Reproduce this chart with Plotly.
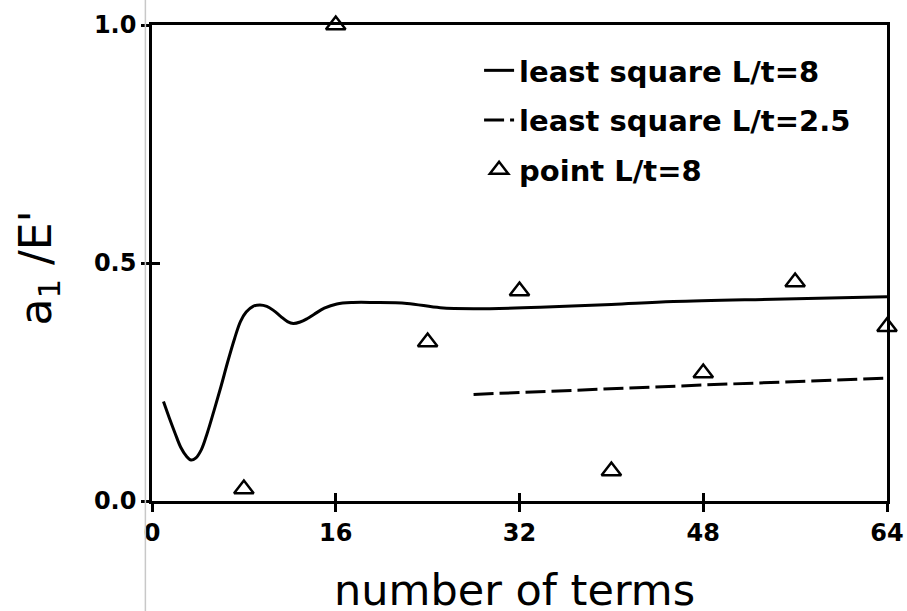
import plotly.graph_objects as go

# ---- data ----
ls8_x = [1.0, 1.5, 2.0, 2.5, 3.0, 3.4, 3.8, 4.3, 4.8, 5.4, 6.0, 6.6, 7.2, 7.7, 8.2, 8.8, 9.4, 10.0,
         10.6, 11.2, 11.8, 12.3, 12.9, 13.5, 14.1, 15.0, 16.1, 17.5, 19.3, 22.2, 25.1, 28.0, 33.8,
         40.0, 45.4, 54.1, 64.0]
ls8_y = [0.209, 0.175, 0.143, 0.113, 0.094, 0.086, 0.090, 0.108, 0.142, 0.190, 0.240, 0.293, 0.342,
         0.377, 0.397, 0.409, 0.412, 0.409, 0.400, 0.388, 0.377, 0.373, 0.376, 0.383, 0.392, 0.405,
         0.414, 0.417, 0.417, 0.415, 0.406, 0.404, 0.407, 0.413, 0.419, 0.424, 0.429]

ls25_x = [28.0, 36.7, 48.3, 64.0]
ls25_y = [0.224, 0.233, 0.244, 0.258]

pt8_x = [8, 16, 24, 32, 40, 48, 56, 64]
pt8_y = [0.025, 1.0, 0.334, 0.441, 0.063, 0.269, 0.46, 0.366]

x_ticks = [0, 16, 32, 48, 64]
y_ticks = [0.0, 0.5, 1.0]
y_ticklabels = ["0.0", "0.5", "1.0"]

FONT = "DejaVu Sans"

fig = go.Figure()
fig.add_trace(go.Scatter(x=ls8_x, y=ls8_y, mode="lines", name="least square L/t=8",
                         line=dict(color="black", width=3, shape="spline", smoothing=1.0),
                         legendgroup="a", cliponaxis=False))
fig.add_trace(go.Scatter(x=ls25_x, y=ls25_y, mode="lines", name="least square L/t=2.5",
                         line=dict(color="black", width=3, dash="20px,6px"),
                         legendgroup="b", cliponaxis=False))
fig.add_trace(go.Scatter(x=pt8_x, y=pt8_y, mode="markers", name="point L/t=8",
                         marker=dict(symbol="triangle-up-open", size=17, color="black",
                                     line=dict(width=2.5, color="black")),
                         legendgroup="c", cliponaxis=False))
# overlay axis trace for inside ticks (invisible)
fig.add_trace(go.Scatter(x=[0], y=[0], xaxis="x2", yaxis="y2", mode="markers",
                         marker=dict(opacity=0), showlegend=False, hoverinfo="skip"))

fig.update_layout(
    width=907, height=611,
    margin=dict(l=151.5, r=20, t=25, b=110, autoexpand=False),
    plot_bgcolor="white", paper_bgcolor="white",
    font=dict(family=FONT, color="black"),
    showlegend=True,
    legend=dict(x=0.445, y=0.958, xanchor="left", yanchor="top",
                font=dict(family=FONT, size=29, color="black", weight="bold"),
                bgcolor="rgba(0,0,0,0)", tracegroupgap=9),
    xaxis=dict(range=[0, 64], tickvals=x_ticks, ticktext=[f"<b>{v}</b>" for v in x_ticks],
               ticks="outside", ticklen=8, tickwidth=2.5, tickcolor="black",
               showline=True, linewidth=2.5, linecolor="black", mirror=True,
               showgrid=False, zeroline=False, automargin=False,
               tickfont=dict(family=FONT, size=24, color="black")),
    yaxis=dict(range=[0, 1], tickvals=y_ticks, ticktext=[f"<b>{t}</b>" for t in y_ticklabels],
               ticks="outside", ticklen=8, tickwidth=2.5, tickcolor="black",
               showline=True, linewidth=2.5, linecolor="black", mirror=True,
               showgrid=False, zeroline=False, automargin=False,
               tickfont=dict(family=FONT, size=24, color="black")),
    xaxis2=dict(range=[0, 64], tickvals=x_ticks, ticks="inside", ticklen=8, tickwidth=2.5,
                tickcolor="black", showticklabels=False, overlaying="x", showgrid=False,
                zeroline=False, showline=False),
    yaxis2=dict(range=[0, 1], tickvals=y_ticks, ticks="inside", ticklen=8, tickwidth=2.5,
                tickcolor="black", showticklabels=False, overlaying="y", showgrid=False,
                zeroline=False, showline=False),
    annotations=[
        dict(text="number of terms", xref="paper", yref="paper", x=0.493, y=-0.186,
             xanchor="center", yanchor="middle", showarrow=False,
             font=dict(family=FONT, size=43, color="black")),
        dict(text="a<sub>1</sub> /E'", xref="paper", yref="paper", x=-0.154, y=0.49,
             xanchor="center", yanchor="middle", showarrow=False, textangle=-90,
             font=dict(family=FONT, size=44, color="black")),
    ],
    shapes=[
        dict(type="line", xref="paper", yref="paper", x0=-0.009, x1=-0.009, y0=-0.231, y1=1.0525,
             line=dict(color="#c8c8c8", width=1.5)),
    ],
)

fig.write_html("out.html")
